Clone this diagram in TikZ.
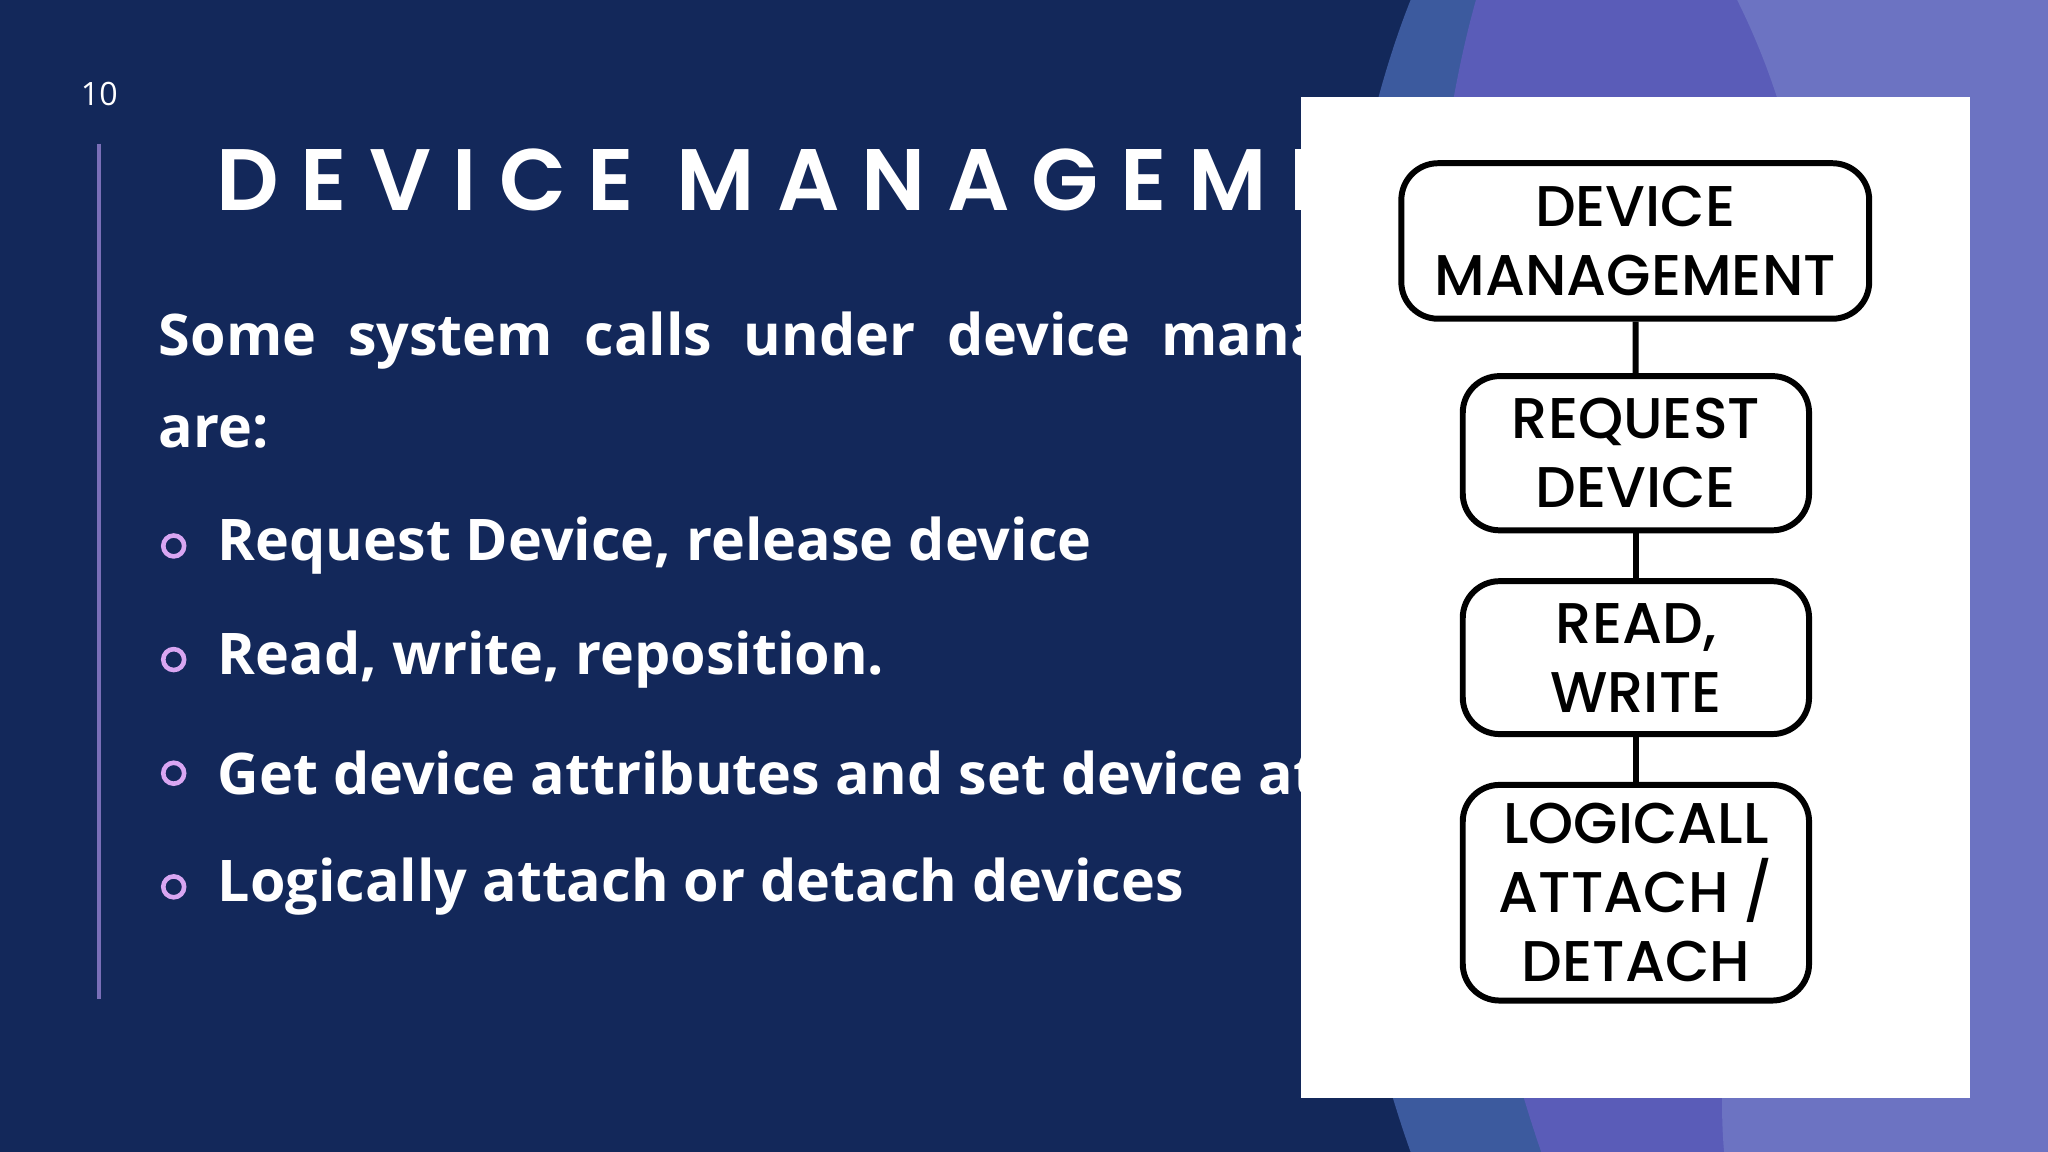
\documentclass[tikz,border=0pt]{standalone}
\usepackage{fontspec}
\setmainfont{Open Sans}
\newfontfamily\titlefont[LetterSpace=25]{Poppins SemiBold}
\newfontfamily\boxfont{Poppins Medium}
\definecolor{navy}{HTML}{13285A}
\definecolor{blobA}{HTML}{5A5CB8}
\definecolor{blobB}{HTML}{6C73C2}
\definecolor{blobC}{HTML}{3C5A9E}
\definecolor{bulletc}{HTML}{D9A6F2}
\definecolor{vline}{HTML}{7A6FB8}
\tikzset{
  P/.style={x=0.01cm,y=-0.01cm},
  fbox/.style={draw=black,line width=1.3pt,rounded corners=8pt,fill=white,align=center,font=\boxfont\fontsize{12.5}{15}\selectfont,inner sep=0pt},
  body/.style={text=white,font=\bfseries\fontsize{12.5}{15}\selectfont,anchor=west,inner sep=0pt},
  bul/.style={draw=bulletc,line width=1pt,circle,minimum size=15pt*0.01cm/0.0353cm,inner sep=0pt},
  conn/.style={draw=black,line width=1.3pt}
}
\begin{document}
\begin{tikzpicture}[P]
\useasboundingbox (0,0) rectangle (1568,882);
\fill[navy] (0,0) rectangle (1568,882);
% background blobs
\fill[blobC] (1080,0) .. controls (1000,200) and (980,600) .. (1080,882) -- (1568,882) -- (1568,0) -- cycle;
\fill[blobA] (1130,0) .. controls (1060,250) and (1100,650) .. (1180,882) -- (1568,882) -- (1568,0) -- cycle;
\fill[blobB] (1330,0) .. controls (1480,300) and (1300,650) .. (1320,882) -- (1568,882) -- (1568,0) -- cycle;
% left content
\node[text=white,font=\fontsize{7}{8}\selectfont] (num) at (76,72) {10};
\draw[vline,line width=0.8pt] (76,110) -- (76,765);
\node[text=white,anchor=west,inner sep=0pt,font=\titlefont\fontsize{19}{22}\selectfont] (title) at (165,138) {DEVICE MANAGEMENT};
\node[body] (l1) at (121,261) {Some\hspace{0.55em}system\hspace{0.55em}calls\hspace{0.55em}under\hspace{0.55em}device\hspace{0.55em}management};
\node[body] (l2) at (121,331) {are:};
\foreach \y/\t [count=\i] in {418/{Request Device, release device},505/{Read, write, reposition.},592/{Get device attributes and set device attributes},679/{Logically attach or detach devices}}{
  \draw[bulletc,line width=1pt] (133,\y) circle (8);
  \node[body] (b\i) at (166,\y) {\t};
}
% white panel
\fill[white] (996,74) rectangle (1508,841);
\node[fbox,minimum width=3.58cm,minimum height=1.19cm] (n1) at (1252,184.5) {DEVICE\\MANAGEMENT};
\node[fbox,minimum width=2.65cm,minimum height=1.18cm] (n2) at (1252.5,347) {REQUEST\\DEVICE};
\node[fbox,minimum width=2.65cm,minimum height=1.17cm] (n3) at (1252.5,503.5) {READ,\\WRITE};
\node[fbox,minimum width=2.65cm,minimum height=1.65cm] (n4) at (1252.5,683.5) {LOGICALL\\ATTACH /\\DETACH};
\draw[conn] (n1) -- (n2);
\draw[conn] (n2) -- (n3);
\draw[conn] (n3) -- (n4);
\end{tikzpicture}
\end{document}
